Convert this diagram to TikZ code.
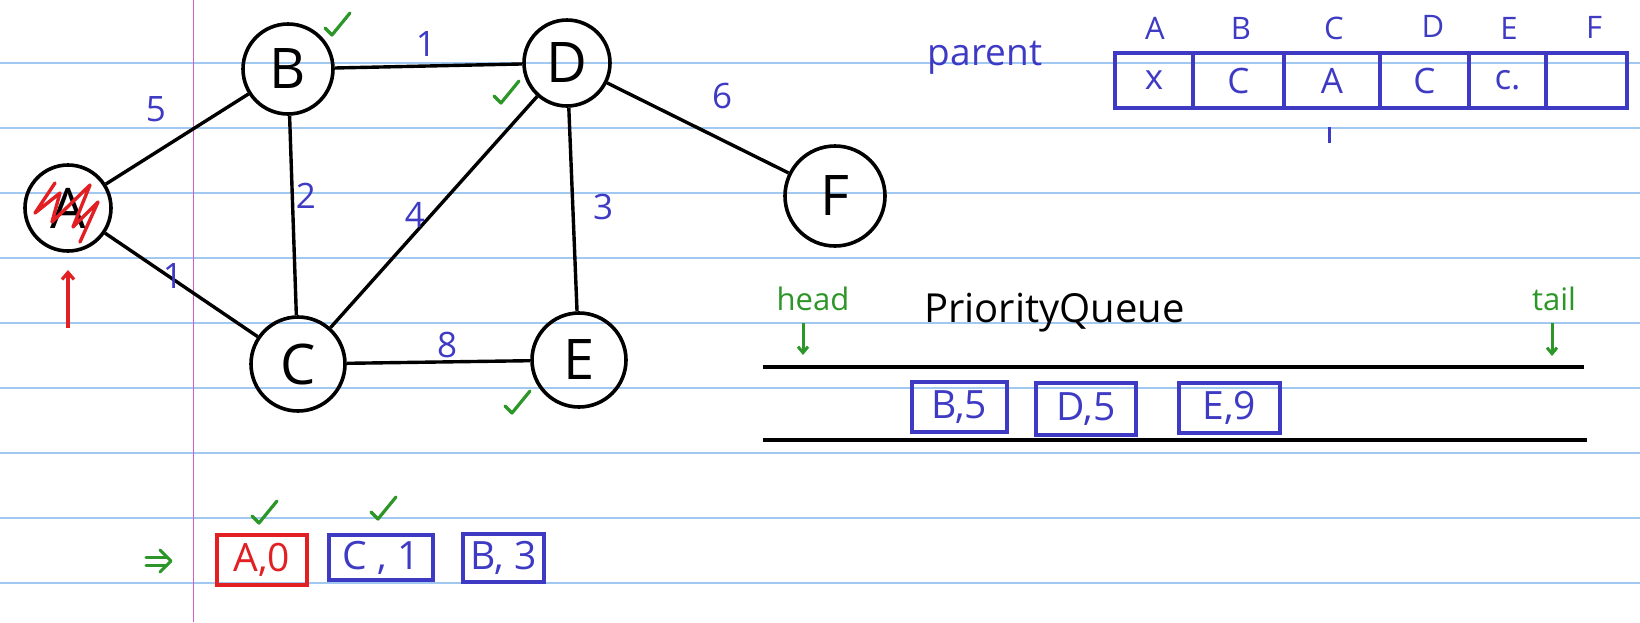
\documentclass[tikz,border=0pt]{standalone}
\usepackage{fontspec}
\setmainfont{Open Sans}
\usetikzlibrary{arrows.meta}
\definecolor{ink}{RGB}{62,58,196}
\definecolor{grn}{RGB}{45,150,40}
\definecolor{redink}{RGB}{226,32,36}
\definecolor{rulecol}{RGB}{160,200,240}
\definecolor{margincol}{RGB}{214,92,196}
\newcommand\fsz[1]{\fontsize{#1}{#1}\selectfont}
\begin{document}
\begin{tikzpicture}[x=1pt,y=-1pt,
  vert/.style={circle,draw,line width=3.6pt,inner sep=0pt,font=\fsz{56}},
  link/.style={line width=3.4pt},
  wt/.style={text=ink,font=\fsz{35},inner sep=0pt},
  hdr/.style={text=ink,font=\fsz{31},inner sep=0pt},
  cell/.style={draw=ink,line width=3.8pt,inner sep=0pt,minimum height=55pt,text=ink,font=\fsz{35}},
  qbox/.style={draw=ink,line width=3.4pt,inner sep=0pt,text=ink,font=\fsz{39}},
  gtext/.style={text=grn,font=\fsz{31},inner sep=0pt},
  garrow/.style={grn,line width=3pt,-{Straight Barb[length=6pt,width=10pt]}},
  chkmark/.pic={\draw[grn,line width=3.2pt,line cap=round,line join=round] (-12,4) -- (-5,11) -- (13,-11);}
]
\useasboundingbox[fill=white] (0,0) rectangle (1640,622);
% ruled paper
\foreach \k in {0,...,8}{\draw[rulecol,line width=1.6pt] (0,62.7+65*\k) -- (1640,62.7+65*\k);}
\draw[margincol,line width=1.6pt] (193.5,0) -- (193.5,622);

% graph nodes
\node[vert,minimum size=86pt] (A) at (68,208) {A};
\node[vert,minimum size=90pt] (B) at (288,69) {B};
\node[vert,minimum size=94pt] (C) at (298,364) {C};
\node[vert,minimum size=86pt] (D) at (567,63) {D};
\node[vert,minimum size=94pt] (E) at (579,360) {E};
\node[vert,minimum size=100pt] (F) at (835,196) {F};

% scribble over A
\draw[redink,line width=3.4pt,line join=round,line cap=round]
  (55,183) -- (35,213) -- (60,193) -- (52,222) -- (90,185) -- (73,227) -- (98,202) -- (80,242);

% edges
\draw[link] (A) -- (B);
\draw[link] (A) -- (C);
\draw[link] (B) -- (D);
\draw[link] (B) -- (C);
\draw[link] (C) -- (D);
\draw[link] (D) -- (E);
\draw[link] (C) -- (E);
\draw[link] (D) -- (F);

% weights
\node[wt] (w5) at (156,109) {5};
\node[wt] (w1a) at (173,276) {1};
\node[wt] (w2) at (306,196) {2};
\node[wt] (w4) at (415,215) {4};
\node[wt] (w1b) at (426,44) {1};
\node[wt] (w8) at (447,345) {8};
\node[wt] (w3) at (603,207) {3};
\node[wt] (w6) at (722,96) {6};

% checks
\pic at (337,24) {chkmark};
\pic at (506,92) {chkmark};
\pic at (517,402) {chkmark};
\pic at (264,512) {chkmark};
\pic at (383,508) {chkmark};

% red start arrow
\coordinate (rs) at (68,328);
\coordinate (re) at (68,270);
\draw[redink,line width=3.2pt,-{Straight Barb[length=7pt,width=12pt]}] (rs) -- (re);

% parent table
\node[text=ink,font=\fsz{37},inner sep=0pt] (parent) at (985,58) {parent};
\node[cell,minimum width=78pt] (c1) at (1154,80.5) {x};
\node[cell,minimum width=91pt] (c2) at (1238.5,80.5) {C};
\node[cell,minimum width=96pt] (c3) at (1332,80.5) {A};
\node[cell,minimum width=89pt] (c4) at (1424.5,80.5) {C};
\node[cell,minimum width=77pt] (c5) at (1507.5,80.5) {c.};
\node[cell,minimum width=81pt] (c6) at (1586.5,80.5) {};
\node[hdr] (hA) at (1155,28) {A};
\node[hdr] (hB) at (1241,28) {B};
\node[hdr] (hC) at (1334,28) {C};
\node[hdr] (hD) at (1433,26) {D};
\node[hdr] (hE) at (1509,28) {E};
\node[hdr] (hF) at (1594,27) {F};
\coordinate (t1) at (1329,127);
\coordinate (t2) at (1329,143);
\draw[ink,line width=3pt] (t1) -- (t2);

% priority queue
\node[gtext] (head) at (813,299) {head};
\node[gtext] (tail) at (1554,299) {tail};
\node[anchor=base west,inner sep=0pt,font=\fsz{40}] (pq) at (924,322) {PriorityQueue};
\coordinate (ha1) at (803,323);
\coordinate (ha2) at (803,355);
\coordinate (ta1) at (1552,323);
\coordinate (ta2) at (1552,356);
\draw[garrow] (ha1) -- (ha2);
\draw[garrow] (ta1) -- (ta2);
\coordinate (l1a) at (763,367);
\coordinate (l1b) at (1584,367);
\coordinate (l2a) at (763,440);
\coordinate (l2b) at (1587,440);
\draw[line width=3.4pt] (l1a) -- (l1b);
\draw[line width=3.4pt] (l2a) -- (l2b);
\node[qbox,minimum width=95pt,minimum height=50pt] (q1) at (959.5,407) {B,5};
\node[qbox,minimum width=100pt,minimum height=52pt] (q2) at (1086,409) {D,5};
\node[qbox,minimum width=101pt,minimum height=50pt] (q3) at (1229.5,408) {E,9};

% bottom row
\node[qbox,draw=redink,text=redink,minimum width=90pt,minimum height=50pt] (b1) at (262,560) {A,0};
\node[qbox,minimum width=104pt,minimum height=45pt] (b2) at (381,557.5) {C , 1};
\node[qbox,minimum width=81pt,minimum height=48pt] (b3) at (503.5,558) {B, 3};
\draw[grn,line width=3pt,line cap=round] (146,557) -- (167,557) (146,565) -- (167,565);
\draw[grn,line width=3pt,line cap=round,line join=round] (160,550) -- (171,561) -- (160,572);
\end{tikzpicture}
\end{document}
